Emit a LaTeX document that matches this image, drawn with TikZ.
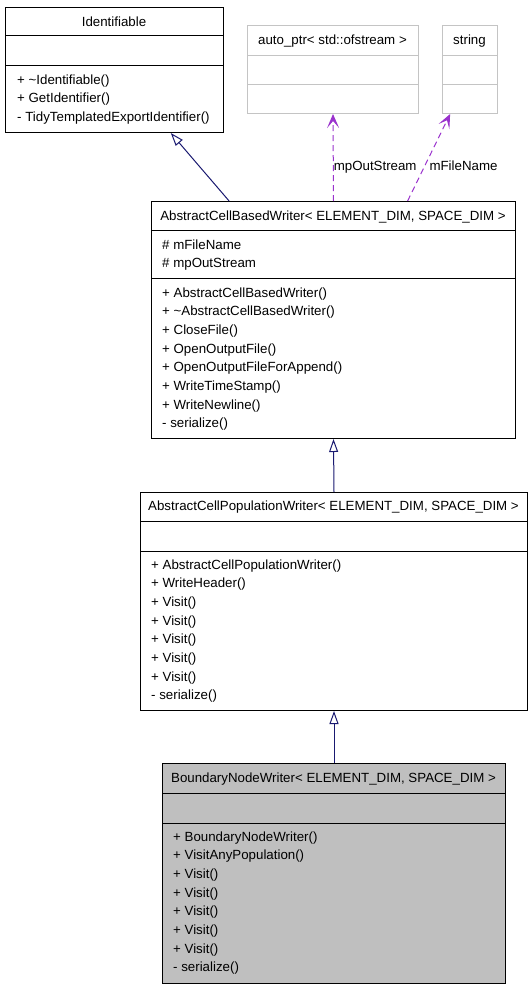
\documentclass[tikz,border=0pt]{standalone}
\usepackage{fontspec}
\setmainfont{Liberation Sans}
\usetikzlibrary{arrows.meta, calc}
\definecolor{edgeblue}{HTML}{191970}
\definecolor{usepurple}{HTML}{9A32CD}
\definecolor{boxgray}{HTML}{BFBFBF}
\definecolor{framegray}{HTML}{C4C4C4}
\tikzset{
  class box/.style={
    rectangle,
    draw=black,
    line width=1pt,
    inner sep=0pt,
    anchor=north west
  },
  ext box/.style={
    class box,
    draw=framegray
  },
  member/.style={
    anchor=west,
    inner sep=0pt,
    text=black,
    font=\fontsize{13.3}{16}\selectfont,
    text height=13pt,
    text depth=3pt
  },
  classname/.style={
    member,
    anchor=center
  },
  inherit/.style={
    -{Triangle[open, length=13pt, width=9pt]},
    line width=1pt,
    color=edgeblue
  },
  uses/.style={
    -{Stealth[length=14pt, width=12pt, inset=7pt]},
    line width=1pt,
    dashed,
    dash pattern=on 6pt off 4pt,
    color=usepurple
  }
}

\begin{document}
\begin{tikzpicture}[x=1pt, y=-1pt]
    \useasboundingbox (0,0) rectangle (532,989);

    % Identifiable (oben links)
    \node[class box, minimum width=218pt, minimum height=125pt] (ident) at (5,7) {};
    \draw[line width=1pt] (5,35) -- (223,35) (5,65) -- (223,65);
    \node[classname] (identname) at (114,21) {Identifiable};
    \foreach \txt [count=\i] in {+ \textasciitilde Identifiable(), + GetIdentifier(), - TidyTemplatedExportIdentifier()}
      \node[member] at (17, {79+18.5*(\i-1)}) {\txt};

    % auto_ptr und string (graue Rahmen)
    \node[ext box, minimum width=171pt, minimum height=88pt] (autoptr) at (247,25) {};
    \draw[framegray, line width=1pt] (247,55) -- (418,55) (247,84) -- (418,84);
    \node[classname] (autoptrname) at (332.5,39) {auto\_ptr< std::ofstream >};

    \node[ext box, minimum width=55pt, minimum height=88pt] (str) at (442,25) {};
    \draw[framegray, line width=1pt] (442,55) -- (497,55) (442,84) -- (497,84);
    \node[classname] (strname) at (469.5,39) {string};

    % AbstractCellBasedWriter
    \node[class box, minimum width=364pt, minimum height=237pt] (cellwriter) at (151,201) {};
    \draw[line width=1pt] (151,230) -- (515,230) (151,278) -- (515,278);
    \node[classname] (cellwritername) at (333,215) {AbstractCellBasedWriter< ELEMENT\_DIM, SPACE\_DIM >};
    \foreach \txt [count=\i] in {\# mFileName, \# mpOutStream}
      \node[member] at (162, {244+18.7*(\i-1)}) {\txt};
    \foreach \txt [count=\i] in {+ AbstractCellBasedWriter(), + \textasciitilde AbstractCellBasedWriter(),
        + CloseFile(), + OpenOutputFile(), + OpenOutputFileForAppend(), + WriteTimeStamp(),
        + WriteNewline(), - serialize()}
      \node[member] at (162, {292+18.7*(\i-1)}) {\txt};

    % AbstractCellPopulationWriter
    \node[class box, minimum width=387pt, minimum height=218pt] (popwriter) at (140,492) {};
    \draw[line width=1pt] (140,521) -- (527,521) (140,551) -- (527,551);
    \node[classname] (popwritername) at (333.5,505) {AbstractCellPopulationWriter< ELEMENT\_DIM, SPACE\_DIM >};
    \foreach \txt [count=\i] in {+ AbstractCellPopulationWriter(), + WriteHeader(), + Visit(),
        + Visit(), + Visit(), + Visit(), + Visit(), - serialize()}
      \node[member] at (151, {564+18.7*(\i-1)}) {\txt};

    % BoundaryNodeWriter (grau gefuellt)
    \node[class box, fill=boxgray, minimum width=343pt, minimum height=220pt] (bnwriter) at (162,763) {};
    \draw[line width=1pt] (162,793) -- (505,793) (162,823) -- (505,823);
    \node[classname] (bnwritername) at (333.5,777) {BoundaryNodeWriter< ELEMENT\_DIM, SPACE\_DIM >};
    \foreach \txt [count=\i] in {+ BoundaryNodeWriter(), + VisitAnyPopulation(), + Visit(),
        + Visit(), + Visit(), + Visit(), + Visit(), - serialize()}
      \node[member] at (173, {836+18.7*(\i-1)}) {\txt};

    % Vererbung
    \draw[inherit] ($(cellwriter.north west)!0.214!(cellwriter.north east)$)
      -- ($(ident.south west)!0.757!(ident.south east)$);
    \draw[inherit] (popwriter.north) -- (cellwriter.south);
    \draw[inherit] (bnwriter.north) -- (popwriter.south);

    % Benutzung (Attribute)
    \draw[uses] (cellwriter.north) -- (autoptr.south)
      node[member, pos=0.41] {mpOutStream};
    \draw[uses] ($(cellwriter.north west)!0.703!(cellwriter.north east)$)
      -- ($(str.south west)!0.145!(str.south east)$)
      node[member, pos=0.41, xshift=4pt] {mFileName};

  \end{tikzpicture}
\end{document}
